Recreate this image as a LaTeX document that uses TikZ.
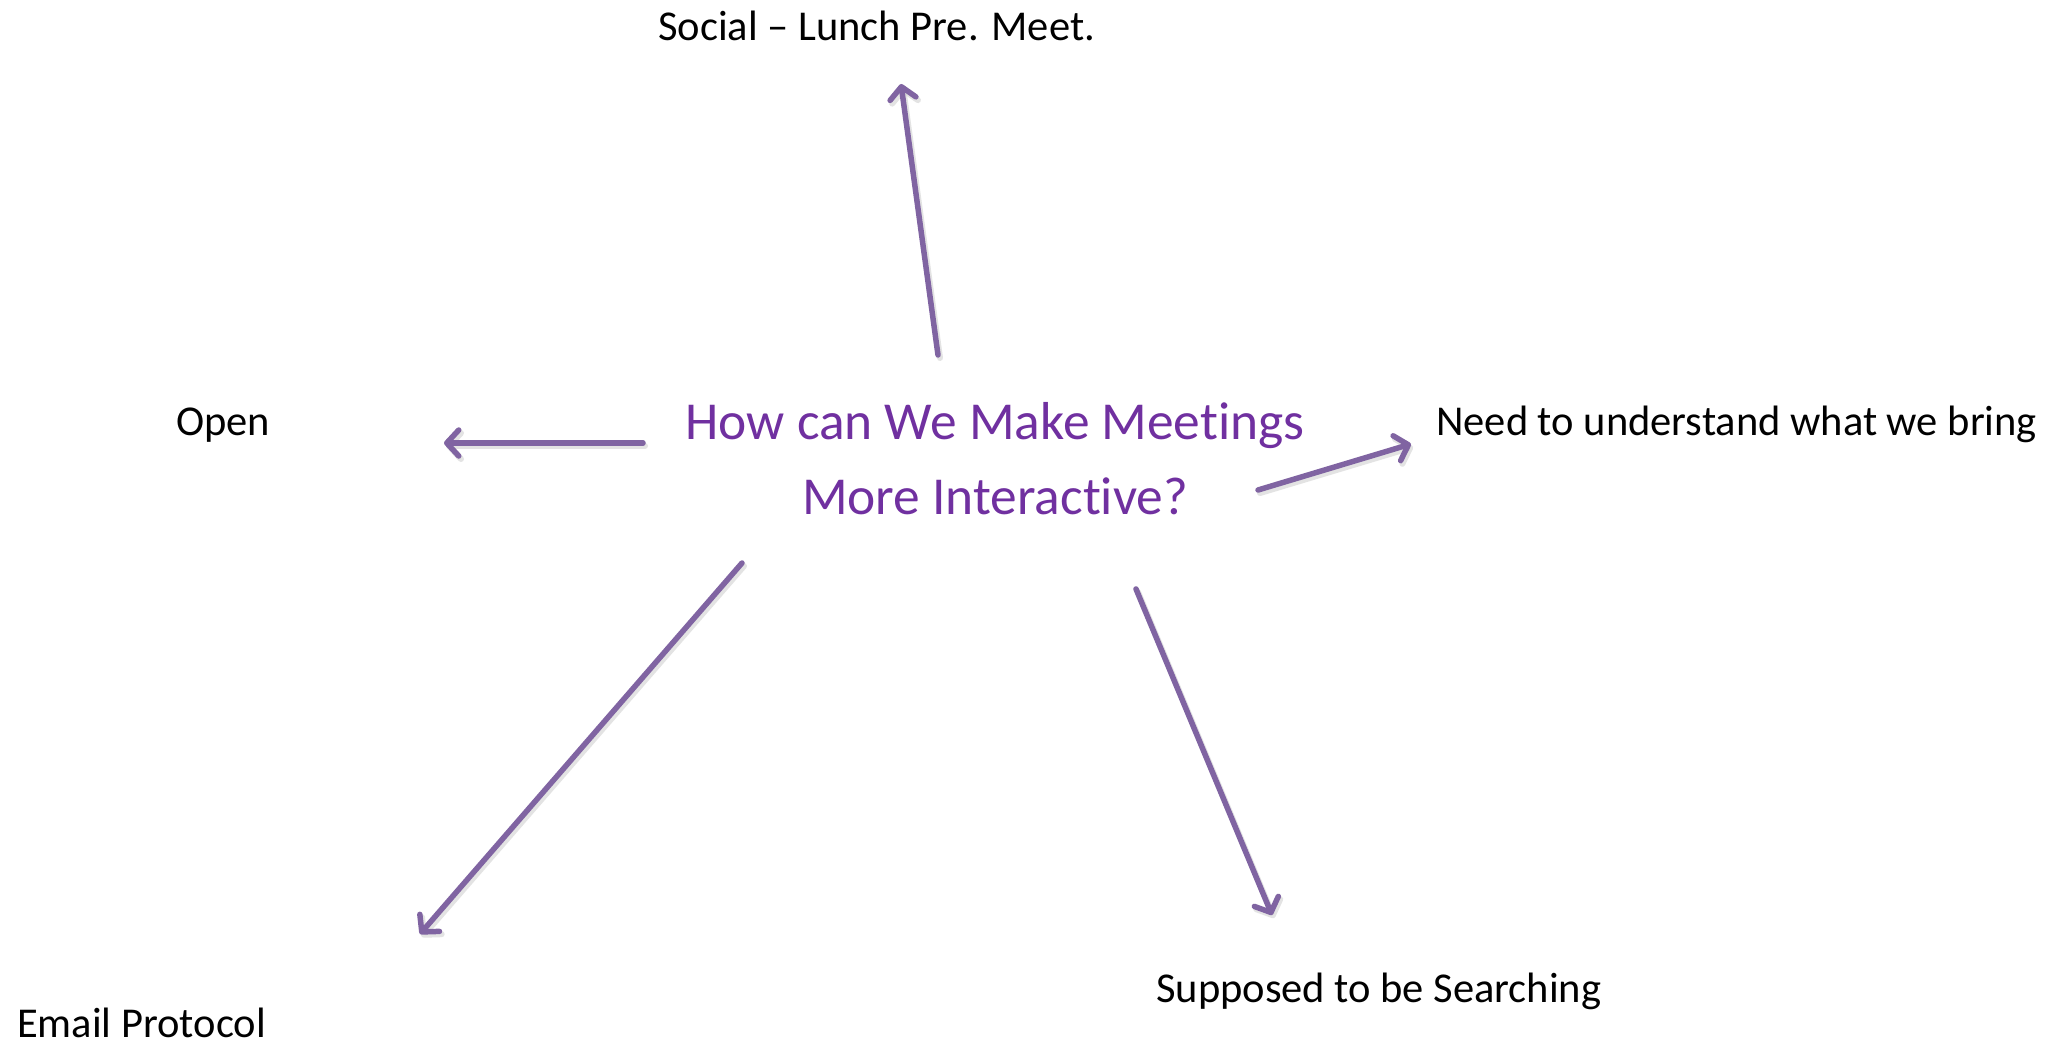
\documentclass[tikz,border=0pt]{standalone}
\usepackage{fontspec}
\setmainfont[Ligatures=NoCommon]{Carlito}
\usetikzlibrary{arrows.meta}
\definecolor{qpurple}{RGB}{112,48,160}
\definecolor{arrowlav}{RGB}{128,100,162}
\begin{document}
\begin{tikzpicture}[x=1pt,y=-1pt,
  lbl/.style={inner sep=0pt,anchor=base west,font=\fontsize{42.5}{50}\selectfont,text=black},
  spoke/.style={draw=arrowlav,line width=5.5pt,line cap=round,
    -{Straight Barb[length=12pt,width=26pt,line width=5.5pt,round]}},
  spokeshadow/.style={draw=black!18,line width=6pt,line cap=round,opacity=0.6,
    -{Straight Barb[length=12pt,width=26pt,line width=6pt,round]}}]
\useasboundingbox[fill=white] (0,0) rectangle (2062,1049);

% central question (anchored on the baseline of its last line)
\node[inner sep=0pt,text=qpurple,font=\fontsize{53.4}{75}\selectfont,align=center,anchor=base]
  (q) at (995,514) {How can We Make Meetings\\More Interactive?};

% outer ideas
\node[lbl] (social) at (658,41) {Social – Lunch Pre. Meet.};
\node[lbl] (open) at (176,435) {Open};
\node[lbl] (need) at (1436,435) {Need to understand what we bring};
\node[lbl] (search) at (1156,1002) {Supposed to be Searching};
\node[lbl] (email) at (17,1037) {Email Protocol};

% spoke end points
\coordinate (s1) at (938,355);  \coordinate (t1) at (901,84);
\coordinate (s2) at (643,443);  \coordinate (t2) at (444,443);
\coordinate (s3) at (1258,490); \coordinate (t3) at (1411,444);
\coordinate (s4) at (742,563);  \coordinate (t4) at (420,934);
\coordinate (s5) at (1136,589); \coordinate (t5) at (1272,915);

% soft drop shadows
\foreach \a/\b in {s1/t1,s2/t2,s3/t3,s4/t4,s5/t5}
  \draw[spokeshadow] ([shift={(2,3)}]\a) -- ([shift={(2,3)}]\b);
% spokes
\foreach \a/\b in {s1/t1,s2/t2,s3/t3,s4/t4,s5/t5}
  \draw[spoke] (\a) -- (\b);
\end{tikzpicture}
\end{document}
